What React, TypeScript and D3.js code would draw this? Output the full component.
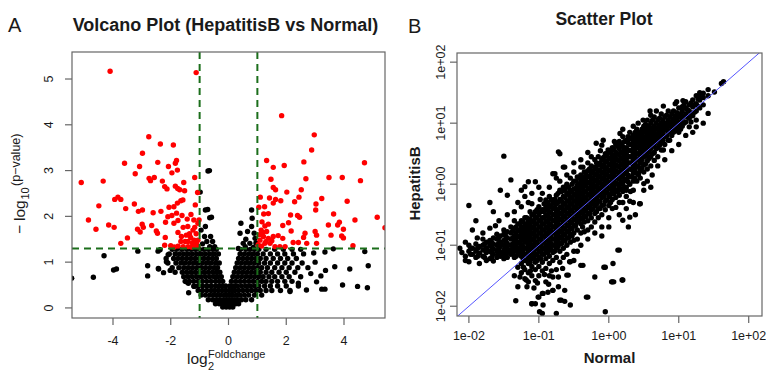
import React from 'react';
import * as d3 from 'd3';

// ---------------- Volcano plot data (log2 fold change, -log10 p) ----------------
const volcanoXTicks = [-4, -2, 0, 2, 4];
const volcanoYTicks = [0, 1, 2, 3, 4, 5];
const foldThreshold = 1;
const pThreshold = 1.3;

const volcanoScattered: [number, number][] = [
  [-4.10, 5.17], [-1.12, 5.14],
  [-2.76, 3.74], [-2.36, 3.58], [-1.91, 3.56], [-2.98, 3.38], [-1.80, 3.22], [-1.84, 3.16], [-3.60, 3.16], [-2.45, 3.18],
  [-3.08, 3.09], [-2.08, 3.09], [-3.23, 2.93], [-1.96, 2.95], [-1.77, 3.01], [-2.75, 2.83], [-2.70, 2.78], [-2.57, 2.85],
  [-2.29, 2.77], [-1.17, 2.85], [-5.10, 2.74], [-4.34, 2.77], [-1.55, 2.74], [-1.84, 2.66], [-2.13, 2.60], [-2.21, 2.65],
  [-1.69, 2.58], [-1.52, 2.56], [-1.76, 2.61], [-1.07, 2.52], [-3.83, 2.42], [-3.73, 2.37], [-3.94, 2.37], [-1.65, 2.34],
  [-1.58, 2.36], [-4.49, 2.23], [-3.26, 2.27], [-3.56, 2.17], [-3.12, 2.11], [-2.98, 2.14], [-2.06, 2.20], [-1.89, 2.21],
  [-1.77, 2.29], [-1.15, 2.25], [-2.61, 2.08], [-2.34, 2.11], [-2.10, 1.99], [-1.96, 2.02], [-1.80, 2.07], [-1.61, 2.02],
  [-1.43, 1.94], [-1.30, 2.04], [-4.85, 1.92], [-4.15, 1.81], [-3.96, 1.76], [-4.59, 1.72], [-3.15, 1.72], [-2.99, 1.83],
  [-2.95, 1.76], [-3.06, 1.66], [-2.66, 1.80], [-2.50, 1.68], [-2.46, 1.63], [-2.18, 1.87], [-1.89, 1.85], [-1.75, 1.91],
  [-1.57, 1.76], [-1.41, 1.78], [-1.17, 1.76], [-1.06, 1.85], [-1.02, 1.92], [-1.23, 1.70], [-3.50, 1.53], [-3.73, 1.41],
  [-2.19, 1.54], [-1.75, 1.65], [-1.63, 1.56], [-1.46, 1.59], [-1.31, 1.54], [-1.19, 1.48], [-1.11, 1.41], [-1.06, 1.48],
  [-1.25, 1.42], [-1.40, 1.45], [-2.00, 1.36], [-2.21, 1.37], [-1.75, 1.35], [-1.57, 1.34], [-1.40, 1.34], [-1.17, 1.35],
  [-1.06, 1.34], [-1.28, 1.33], [-1.88, 1.33], [-1.50, 1.45], [-1.35, 1.62], [-1.12, 1.62], [-1.20, 1.92], [-1.65, 1.45],
  [1.84, 4.20], [2.97, 3.78], [2.88, 3.45], [1.32, 3.22], [1.55, 3.07], [1.93, 3.11], [2.61, 3.19], [4.71, 3.17],
  [1.47, 2.81], [1.55, 2.63], [1.63, 2.58], [2.02, 2.53], [2.52, 2.58], [2.68, 2.82], [3.48, 2.85], [3.94, 2.85],
  [4.57, 2.78], [1.10, 2.42], [1.42, 2.40], [1.63, 2.37], [1.81, 2.34], [2.44, 2.42], [2.29, 2.32], [3.23, 2.39],
  [3.03, 2.27], [4.11, 2.33], [1.25, 2.21], [1.55, 2.29], [3.02, 2.14], [3.64, 2.05], [1.22, 2.05], [1.38, 2.06],
  [2.15, 2.03], [2.39, 2.02], [2.46, 1.98], [5.15, 1.98], [4.38, 1.92], [3.84, 1.87], [3.78, 1.81], [3.46, 1.81],
  [3.98, 1.72], [2.08, 1.86], [1.88, 1.80], [1.16, 1.88], [1.26, 1.79], [1.38, 1.83], [1.13, 1.70], [1.32, 1.67],
  [2.17, 1.68], [2.65, 1.63], [2.60, 1.54], [3.00, 1.67], [3.05, 1.59], [3.55, 1.59], [3.92, 1.57], [3.98, 1.53],
  [1.72, 1.58], [1.55, 1.56], [1.38, 1.52], [1.21, 1.56], [1.09, 1.48], [1.44, 1.41], [1.26, 1.41], [1.15, 1.35],
  [1.03, 1.38], [1.61, 1.34], [1.78, 1.34], [1.96, 1.34], [2.24, 1.43], [2.42, 1.43], [2.71, 1.41], [3.05, 1.41],
  [4.31, 1.36], [5.42, 1.75], [1.08, 1.60], [1.18, 1.65], [1.05, 2.20], [1.30, 1.45], [1.50, 1.47], [1.88, 1.52],
  // non-significant outliers
  [-5.43, 0.65], [-4.68, 0.67], [-4.31, 1.14], [-3.98, 0.83], [-3.88, 0.85], [-3.14, 1.24], [-2.80, 0.92], [-2.80, 0.70],
  [-2.42, 0.85], [-2.37, 1.27], [-2.44, 1.24], [-2.16, 1.08], [-2.02, 0.82], [-2.25, 0.77], [-2.43, 0.86], [-2.15, 1.01],
  [-2.09, 1.16], [-1.38, 0.33], [-1.39, 0.54], [-1.46, 0.57], [-1.19, 0.47],
  [3.34, 1.22], [3.63, 1.29], [4.72, 1.23], [4.84, 0.92], [4.20, 0.85], [3.68, 0.90], [3.36, 0.82], [3.95, 0.50],
  [4.47, 0.47], [4.81, 0.44], [3.23, 0.41], [3.34, 0.41], [3.05, 0.57], [2.70, 0.39], [2.42, 0.54], [2.13, 0.36],
  [3.00, 1.00], [2.95, 1.20], [3.20, 0.70], [2.85, 0.75],
  [-0.71, 2.99], [-0.66, 3.00], [-0.98, 2.53], [-0.80, 2.14], [-0.72, 2.15], [-0.65, 1.97], [-0.59, 1.98], [-0.80, 1.78],
  [-0.83, 1.56], [-0.62, 1.56], [-0.65, 1.34], [-0.48, 1.34], [-0.90, 1.40], [-0.75, 1.45], [-0.55, 1.45], [-0.95, 1.70],
  [0.80, 2.14], [0.82, 1.96], [0.43, 1.85], [0.80, 1.78], [0.40, 1.63], [0.66, 1.67], [0.89, 1.63], [0.92, 1.52],
  [0.51, 1.41], [0.74, 1.41], [0.34, 1.30], [0.58, 1.34], [0.86, 1.32], [0.95, 1.42], [0.60, 1.50],
];

// dense part of the volcano: [-log10 p, fold changes on that level]
const volcanoRows: [number, number[]][] = [
  [1.28, [-1.95, -1.8, -1.62, -1.45, -1.3, -1.15, -1.0, -0.85, -0.7, -0.55, -0.42, 0.42, 0.6, 0.75, 0.9, 1.05, 1.3, 1.6, 1.9, 2.2, 2.5]],
  [1.18, [-2.05, -1.85, -1.7, -1.55, -1.4, -1.25, -1.1, -0.95, -0.8, -0.65, -0.5, -0.35, 0.4, 0.55, 0.7, 0.85, 1.0, 1.2, 1.45, 1.7, 1.95, 2.25, 2.6]],
  [1.08, [-1.9, -1.75, -1.6, -1.45, -1.3, -1.15, -1.0, -0.85, -0.7, -0.55, -0.42, 0.35, 0.5, 0.65, 0.8, 0.95, 1.1, 1.3, 1.55, 1.8, 2.05, 2.35]],
  [0.98, [-2.1, -1.82, -1.65, -1.5, -1.35, -1.2, -1.05, -0.9, -0.75, -0.6, -0.45, -0.32, 0.3, 0.45, 0.6, 0.75, 0.9, 1.05, 1.25, 1.45, 1.7, 1.95, 2.2, 2.55]],
  [0.88, [-1.95, -1.72, -1.55, -1.4, -1.25, -1.1, -0.95, -0.8, -0.65, -0.5, -0.38, 0.25, 0.4, 0.55, 0.7, 0.85, 1.0, 1.15, 1.35, 1.6, 1.85, 2.1, 2.4, 2.75]],
  [0.78, [-1.85, -1.6, -1.45, -1.3, -1.15, -1.0, -0.85, -0.7, -0.55, -0.42, -0.3, 0.2, 0.35, 0.5, 0.65, 0.8, 0.95, 1.1, 1.3, 1.5, 1.75, 2.0, 2.3]],
  [0.68, [-1.55, -1.4, -1.25, -1.1, -0.95, -0.8, -0.65, -0.5, -0.38, -0.25, 0.15, 0.3, 0.45, 0.6, 0.75, 0.9, 1.05, 1.2, 1.4, 1.6, 1.85, 2.1, 2.5]],
  [0.58, [-1.5, -1.35, -1.2, -1.05, -0.9, -0.75, -0.6, -0.45, -0.32, -0.2, 0.1, 0.25, 0.4, 0.55, 0.7, 0.85, 1.0, 1.15, 1.3, 1.5, 1.7, 1.95, 2.2]],
  [0.48, [-1.2, -1.05, -0.9, -0.75, -0.6, -0.45, -0.32, -0.2, -0.1, 0.05, 0.18, 0.3, 0.45, 0.6, 0.75, 0.9, 1.05, 1.25, 1.45, 1.7, 2.0, 2.42]],
  [0.38, [-1.05, -0.9, -0.75, -0.6, -0.48, -0.35, -0.22, -0.1, 0.02, 0.12, 0.22, 0.35, 0.5, 0.65, 0.8, 0.95, 1.1, 1.3, 1.5, 1.8, 2.13]],
  [0.28, [-0.95, -0.8, -0.65, -0.52, -0.4, -0.28, -0.15, -0.05, 0.05, 0.15, 0.28, 0.4, 0.55, 0.7, 0.9, 1.15]],
  [0.18, [-0.7, -0.55, -0.42, -0.3, -0.18, -0.08, 0.02, 0.12, 0.22, 0.32, 0.45, 0.6, 0.8]],
  [0.09, [-0.45, -0.32, -0.2, -0.1, 0.0, 0.1, 0.18, 0.25, 0.35]],
  [0.02, [-0.2, -0.08, 0.04, 0.15]],
];

// ---------------- Scatter plot data (log10 Normal, log10 HepatitisB) ----------------
const scatterTickExponents = [-2, -1, 0, 1, 2];
const scatterTickLabels = ['1e-02', '1e-01', '1e+00', '1e+01', '1e+02'];

// dense band: [log10 Normal, log10 HepatitisB values in that column]
const scatterColumns: [number, number[]][] = [
  [-2.13, [-1.05]], [-2.1, [-1.12]], [-2.05, [-0.95, -1.18, -1.25]], [-2.0, [-0.35, -1.0, -1.1, -1.27]],
  [-1.95, [-0.75, -1.05, -1.15]], [-1.9, [-0.6, -0.98, -1.1, -1.2]], [-1.85, [-1.02, -1.13, -1.3]],
  [-1.8, [-0.9, -1.0, -1.08, -1.18]], [-1.75, [-0.95, -1.05, -1.12, -1.25]],
  [-1.7, [-0.3, -0.72, -0.92, -1.0, -1.1, -1.22]], [-1.65, [-0.45, -0.88, -0.98, -1.06, -1.15, -1.26]],
  [-1.6, [-0.82, -0.9, -1.0, -1.1, -1.2]], [-1.55, [-0.1, -0.85, -0.95, -1.02, -1.12, -1.18]],
  [-1.5, [0.46, -0.75, -0.82, -0.92, -1.0, -1.08, -1.15, -1.22]],
  [-1.45, [-0.18, -0.5, -0.78, -0.88, -0.97, -1.05, -1.12, -1.2]],
  [-1.4, [0.07, -0.7, -0.8, -0.9, -1.0, -1.08, -1.15]],
  [-1.35, [-0.6, -0.72, -0.85, -0.95, -1.02, -1.1, -1.2, -1.5]],
  [-1.3, [-0.65, -0.76, -0.86, -0.96, -1.05, -1.12, -1.36, -1.68]],
  [-1.25, [-0.1, -0.37, -0.6, -0.7, -0.8, -0.9, -1.0, -1.08, -1.18, -1.3, -1.45]],
  [-1.2, [-0.04, -0.55, -0.68, -0.78, -0.88, -0.95, -1.05, -1.15, -1.25, -1.4, -1.55]],
  [-1.15, [0.04, -0.3, -0.6, -0.7, -0.8, -0.9, -1.0, -1.1, -1.2, -1.3, -1.45, -1.6]],
  [-1.1, [-0.32, -0.5, -0.62, -0.72, -0.82, -0.92, -1.02, -1.12, -1.22, -1.35, -1.5, -1.96]],
  [-1.05, [0.04, -0.45, -0.55, -0.65, -0.75, -0.85, -0.95, -1.05, -1.15, -1.28, -1.4, -1.58]],
  [-1.0, [-0.05, -0.37, -0.5, -0.6, -0.7, -0.8, -0.9, -1.0, -1.1, -1.2, -1.35, -1.5, -1.85]],
  [-0.95, [-0.15, -0.42, -0.55, -0.65, -0.75, -0.85, -0.95, -1.05, -1.15, -1.28, -1.42, -1.79, -2.12]],
  [-0.9, [-0.26, -0.38, -0.5, -0.6, -0.7, -0.8, -0.9, -1.0, -1.1, -1.22, -1.38, -1.6]],
  [-0.85, [-0.2, -0.35, -0.45, -0.55, -0.65, -0.75, -0.85, -0.95, -1.05, -1.18, -1.3, -1.5]],
  [-0.8, [0.17, -0.3, -0.4, -0.5, -0.6, -0.7, -0.8, -0.9, -1.0, -1.12, -1.25, -1.52, -1.74]],
  [-0.75, [0.1, -0.18, -0.32, -0.45, -0.55, -0.65, -0.75, -0.85, -0.95, -1.05, -1.2, -1.4, -2.12]],
  [-0.7, [0.5, -0.1, -0.25, -0.38, -0.48, -0.58, -0.68, -0.78, -0.88, -0.98, -1.1, -1.28, -1.9]],
  [-0.65, [0.28, -0.05, -0.2, -0.32, -0.42, -0.52, -0.62, -0.72, -0.82, -0.92, -1.05, -1.2]],
  [-0.6, [0.0, -0.15, -0.28, -0.38, -0.48, -0.58, -0.68, -0.78, -0.88, -1.0, -1.15, -1.49]],
  [-0.55, [0.1, -0.1, -0.22, -0.32, -0.42, -0.52, -0.62, -0.72, -0.82, -0.95, -1.27, -1.98]],
  [-0.5, [0.2, 0.05, -0.08, -0.18, -0.28, -0.38, -0.48, -0.58, -0.68, -0.8, -0.92, -1.1]],
  [-0.45, [0.12, -0.02, -0.12, -0.22, -0.32, -0.42, -0.52, -0.62, -0.75, -0.9]],
  [-0.4, [0.28, 0.15, 0.05, -0.05, -0.15, -0.25, -0.35, -0.45, -0.55, -0.65, -0.8, -1.33]],
  [-0.35, [0.2, 0.08, -0.02, -0.12, -0.22, -0.32, -0.42, -0.52, -0.62, -0.78]],
  [-0.3, [0.35, 0.22, 0.12, 0.02, -0.08, -0.18, -0.28, -0.38, -0.48, -0.6, -0.75, -1.85]],
  [-0.25, [0.3, 0.18, 0.08, -0.02, -0.12, -0.22, -0.32, -0.42, -0.55, -0.7]],
  [-0.2, [0.4, 0.28, 0.15, 0.05, -0.05, -0.15, -0.25, -0.35, -0.48, -0.62, -1.52]],
  [-0.15, [0.45, 0.32, 0.22, 0.12, 0.02, -0.08, -0.18, -0.28, -0.4, -0.55]],
  [-0.1, [0.64, 0.4, 0.28, 0.18, 0.08, -0.02, -0.12, -0.22, -0.35, -0.5, -0.7]],
  [-0.05, [0.5, 0.38, 0.25, 0.15, 0.05, -0.05, -0.15, -0.28, -0.42, -1.36, -2.09]],
  [0.0, [0.55, 0.42, 0.32, 0.22, 0.12, 0.02, -0.08, -0.2, -0.35, -0.55]],
  [0.05, [0.6, 0.48, 0.38, 0.28, 0.18, 0.08, -0.02, -0.12, -0.25, -0.4, -1.6]],
  [0.1, [0.65, 0.52, 0.42, 0.32, 0.22, 0.12, 0.02, -0.1, -0.22, -0.38]],
  [0.15, [0.7, 0.58, 0.48, 0.38, 0.28, 0.18, 0.08, -0.05, -0.18, -0.5, -1.08]],
  [0.2, [0.78, 0.62, 0.52, 0.42, 0.32, 0.22, 0.12, 0.0, -0.12, -0.3, -0.59, -1.57]],
  [0.25, [0.72, 0.6, 0.5, 0.4, 0.3, 0.2, 0.08, -0.05, -0.2]],
  [0.3, [0.85, 0.75, 0.65, 0.55, 0.45, 0.35, 0.25, 0.12, 0.0, -0.28, -0.54]],
  [0.35, [0.8, 0.7, 0.6, 0.5, 0.4, 0.3, 0.18, 0.05, -0.1]],
  [0.4, [0.9, 0.8, 0.7, 0.6, 0.5, 0.4, 0.3, 0.18, 0.05]],
  [0.45, [0.85, 0.75, 0.65, 0.55, 0.45, 0.35, 0.22, 0.1, -0.32]],
  [0.5, [0.95, 0.85, 0.75, 0.65, 0.55, 0.45, 0.32, 0.2, 0.01]],
  [0.55, [1.05, 0.9, 0.8, 0.7, 0.6, 0.5, 0.38, 0.25]],
  [0.6, [1.13, 1.0, 0.88, 0.78, 0.68, 0.58, 0.45, 0.3]],
  [0.65, [1.1, 0.95, 0.85, 0.75, 0.65, 0.52, 0.39]],
  [0.7, [1.05, 0.92, 0.82, 0.72, 0.6, 0.45]],
  [0.75, [1.15, 1.0, 0.9, 0.8, 0.68, 0.56]],
  [0.8, [1.1, 0.98, 0.89, 0.78, 0.65]],
  [0.85, [1.2, 1.05, 0.95, 0.85, 0.72]],
  [0.9, [1.15, 1.02, 0.92, 0.8]],
  [0.95, [1.32, 1.12, 1.0, 0.88]],
  [1.0, [1.25, 1.1, 0.98, 0.85]],
  [1.05, [1.27, 1.2, 1.08, 0.95]],
  [1.1, [1.35, 1.25, 1.15, 1.02]],
  [1.15, [1.3, 1.2, 1.08, 0.94]],
  [1.2, [1.38, 1.27, 1.12]],
  [1.25, [1.45, 1.32, 1.2, 1.05, 0.94]],
  [1.3, [1.5, 1.43, 1.38, 1.25]],
  [1.35, [1.49, 1.42, 1.3]],
  [1.42, [1.16, 1.45, 1.55]],
  [1.51, [1.51]], [1.61, [1.65]], [1.64, [1.68]],
];

// the core of the band, between the columns above
const scatterCoreColumns: [number, number[]][] = [
  [-1.975, [-1.05, -1.15]], [-1.875, [-1.05, -1.18]], [-1.775, [-0.98, -1.08, -1.2]],
  [-1.675, [-0.95, -1.03, -1.12, -1.2]], [-1.575, [-0.88, -0.97, -1.06, -1.15]],
  [-1.475, [-0.85, -0.93, -1.02, -1.1, -1.18]], [-1.375, [-0.77, -0.88, -0.98, -1.06, -1.14]],
  [-1.325, [-0.7, -0.8, -0.9, -1.0, -1.08, -1.18]],
  [-1.275, [-0.65, -0.75, -0.85, -0.95, -1.05, -1.15]],
  [-1.225, [-0.62, -0.73, -0.83, -0.92, -1.02, -1.12, -1.22]],
  [-1.175, [-0.55, -0.65, -0.75, -0.85, -0.95, -1.05, -1.15, -1.25]],
  [-1.125, [-0.45, -0.57, -0.67, -0.77, -0.87, -0.97, -1.07, -1.17, -1.28]],
  [-1.075, [-0.5, -0.6, -0.7, -0.8, -0.9, -1.0, -1.1, -1.2]],
  [-1.025, [-0.42, -0.55, -0.65, -0.75, -0.85, -0.95, -1.05, -1.15, -1.25]],
  [-0.975, [-0.45, -0.6, -0.7, -0.8, -0.9, -1.0, -1.1, -1.22]],
  [-0.925, [-0.32, -0.45, -0.55, -0.65, -0.75, -0.85, -0.95, -1.05, -1.15]],
  [-0.875, [-0.3, -0.42, -0.52, -0.62, -0.72, -0.82, -0.92, -1.02, -1.12]],
  [-0.825, [-0.25, -0.37, -0.47, -0.57, -0.67, -0.77, -0.87, -0.97, -1.07]],
  [-0.775, [-0.25, -0.38, -0.5, -0.6, -0.7, -0.8, -0.9, -1.0, -1.1]],
  [-0.725, [-0.15, -0.3, -0.42, -0.52, -0.62, -0.72, -0.82, -0.92, -1.02]],
  [-0.675, [-0.12, -0.28, -0.37, -0.47, -0.57, -0.67, -0.77, -0.87, -0.97]],
  [-0.625, [-0.1, -0.22, -0.33, -0.43, -0.53, -0.63, -0.73, -0.83, -0.93]],
  [-0.575, [-0.05, -0.17, -0.27, -0.37, -0.47, -0.57, -0.67, -0.77, -0.88]],
  [-0.525, [0.0, -0.13, -0.23, -0.33, -0.43, -0.53, -0.63, -0.73, -0.85]],
  [-0.475, [0.05, -0.07, -0.17, -0.27, -0.37, -0.47, -0.57, -0.68]],
  [-0.425, [0.1, 0.0, -0.1, -0.2, -0.3, -0.4, -0.5, -0.6]],
  [-0.375, [0.12, 0.02, -0.07, -0.17, -0.27, -0.37, -0.47, -0.57, -0.7]],
  [-0.325, [0.16, 0.06, -0.03, -0.13, -0.23, -0.33, -0.43, -0.53]],
  [-0.275, [0.25, 0.13, 0.03, -0.07, -0.17, -0.27, -0.37, -0.48]],
  [-0.225, [0.22, 0.1, 0.0, -0.1, -0.2, -0.3, -0.4]],
  [-0.175, [0.35, 0.25, 0.17, 0.07, -0.03, -0.13, -0.23, -0.33, -0.45]],
  [-0.125, [0.35, 0.23, 0.13, 0.03, -0.07, -0.17, -0.28, -0.4]],
  [-0.075, [0.44, 0.32, 0.2, 0.1, 0.0, -0.1, -0.2, -0.34]],
  [-0.025, [0.47, 0.37, 0.27, 0.17, 0.07, -0.03, -0.13, -0.26]],
  [0.025, [0.52, 0.43, 0.33, 0.23, 0.13, 0.03, -0.07, -0.17, -0.3]],
  [0.075, [0.57, 0.45, 0.35, 0.25, 0.15, 0.05, -0.05, -0.16]],
  [0.125, [0.62, 0.5, 0.4, 0.3, 0.2, 0.1, 0.0, -0.12]],
  [0.175, [0.65, 0.53, 0.43, 0.33, 0.23, 0.13, 0.03, -0.08]],
  [0.225, [0.7, 0.57, 0.47, 0.37, 0.27, 0.17, 0.06, -0.06]],
  [0.275, [0.78, 0.68, 0.56, 0.45, 0.35, 0.25, 0.15, 0.04]],
  [0.325, [0.76, 0.65, 0.55, 0.45, 0.35, 0.24, 0.12]],
  [0.375, [0.85, 0.75, 0.65, 0.55, 0.45, 0.35, 0.24, 0.1]],
  [0.425, [0.83, 0.72, 0.62, 0.5, 0.4, 0.28, 0.16]],
  [0.475, [0.9, 0.8, 0.7, 0.6, 0.5, 0.4, 0.27]],
  [0.525, [0.98, 0.88, 0.78, 0.67, 0.57, 0.46, 0.33]],
  [0.575, [0.95, 0.85, 0.75, 0.64, 0.54, 0.42]],
  [0.625, [1.05, 0.92, 0.82, 0.72, 0.62, 0.5]],
  [0.675, [1.0, 0.9, 0.8, 0.7, 0.58]],
  [0.725, [1.08, 0.97, 0.86, 0.76, 0.64]],
  [0.775, [1.05, 0.94, 0.84, 0.72]],
  [0.825, [1.13, 1.0, 0.9, 0.79]],
  [0.875, [1.1, 0.98, 0.87]],
  [0.925, [1.2, 1.07, 0.96, 0.85]],
  [0.975, [1.17, 1.05, 0.93]],
  [1.025, [1.15, 1.02, 0.9]],
  [1.075, [1.3, 1.12, 1.0]],
  [1.125, [1.22, 1.1]],
  [1.175, [1.33, 1.16, 1.02]],
  [1.225, [1.3, 1.18]],
  [1.275, [1.4, 1.28]],
];

const scatterOutliers: [number, number][] = [
  [-1.33, -1.91], [-1.10, -1.96], [-1.05, -1.96], [-0.94, -1.98], [-1.01, -1.85], [-0.94, -1.79], [-0.87, -1.77],
  [-0.80, -1.74], [-0.68, -1.90], [-0.63, -1.92], [-0.58, -1.49], [-0.56, -1.27], [-0.37, -1.33], [-0.32, -1.85],
  [-0.07, -1.36], [0.04, -1.60], [0.06, -1.30], [0.07, -1.60], [0.19, -1.57], [0.13, -1.08], [-0.99, -2.09],
  [-0.63, -1.74], [-0.72, -1.68], [-1.18, -1.57], [-1.27, -1.52], [-1.22, -1.36], [-1.12, -1.42], [-1.02, -1.62],
  [-0.92, -1.48], [-0.82, -1.42], [-0.72, -1.52], [-0.66, -1.38], [-1.07, -1.7], [-0.86, -1.64], [-1.17, -1.68],
  [-0.72, 0.53], [-0.18, 0.67], [-0.08, 0.72], [0.16, 0.83], [0.32, 0.75], [0.49, 1.05], [0.40, 0.86], [-0.63, 0.28],
  [-0.37, 0.28], [-0.77, 0.17], [0.78, 0.89], [0.87, 0.72], [0.78, 0.56], [0.44, -0.32], [0.25, -0.10], [0.31, -0.12],
  // ragged upper edge
  [-1.2, -0.2], [-1.3, -0.3], [-1.35, -0.45], [-1.1, -0.15], [-0.98, -0.25], [-0.85, -0.05], [-0.7, 0.05],
  [-0.6, 0.15], [-0.5, 0.35], [-0.4, 0.4], [-0.25, 0.45], [-0.3, 0.52], [-0.01, 0.56], [0.08, 0.7], [0.2, 0.9],
  [0.35, 0.95], [0.42, 1.0], [0.59, 1.2], [0.68, 1.2], [0.78, 1.28], [0.97, 1.35], [1.06, 1.37], [-1.57, -0.6],
  [-1.62, -0.68], [-1.8, -0.8], [-1.88, -0.88], [-0.12, 0.55],
  // ragged lower edge
  [0.5, -0.1], [0.55, 0.05], [0.62, 0.15], [0.7, 0.3], [0.8, 0.4], [0.9, 0.55], [1.0, 0.65], [1.1, 0.8],
  [1.2, 0.85], [1.35, 1.0], [0.35, -0.3], [0.25, -0.4], [0.15, -0.3], [0.0, -0.7], [-0.1, -0.85], [-0.2, -0.8],
  [-0.3, -0.9], [-0.4, -1.0], [-0.5, -1.25], [-0.45, -1.1], [0.28, -0.7], [0.38, -0.5], [0.6, -0.05],
];

// ------------------------------------------------------------------------------------
const FONT = '"Liberation Sans", Arial, Helvetica, sans-serif';
const TXT = '#1a1a1a';
const AXIS = '#666';

export default function App() {
  // volcano scales
  const vx = d3.scaleLinear().domain([-5.42, 5.42]).range([72, 385]);
  const vy = d3.scaleLinear().domain([-0.22, 5.59]).range([318, 52]);
  // scatter scales (log)
  const sx = d3.scaleLog().domain([Math.pow(10, -2.17), Math.pow(10, 2.19)]).range([457, 762]);
  const sy = d3.scaleLog().domain([Math.pow(10, -2.16), Math.pow(10, 2.15)]).range([316, 53]);

  const volcanoPts: [number, number][] = [
    ...volcanoScattered,
    ...volcanoRows.flatMap(([y, xs]) => xs.map((x) => [x, y] as [number, number])),
  ];
  const isSig = (p: [number, number]) => Math.abs(p[0]) > foldThreshold && p[1] > pThreshold;
  const blackPts = volcanoPts.filter((p) => !isSig(p));
  const redPts = volcanoPts.filter(isSig);

  const toPairs = (cols: [number, number[]][]) =>
    cols.flatMap(([x, ys]) => ys.map((y) => [x, y] as [number, number]));
  const scatterPts: [number, number][] = [
    ...toPairs(scatterColumns),
    ...toPairs(scatterCoreColumns),
    ...scatterOutliers,
  ];

  const [vx0, vx1] = vx.range();
  const [vy0, vy1] = vy.range();
  const [sx0, sx1] = sx.range();
  const [sy0, sy1] = sy.range();

  const diag = d3.line<number>().x((v) => sx(v)).y((v) => sy(v))([1e-3, 1e3]) || '';
  const R = 2.7;

  return (
    <svg width={766} height={370} style={{ position: 'absolute', left: 0, top: 0, background: '#fff' }} fontFamily={FONT}>
      <defs>
        <clipPath id="vclip"><rect x={vx0} y={vy1} width={vx1 - vx0} height={vy0 - vy1} /></clipPath>
        <clipPath id="sclip"><rect x={sx0} y={sy1} width={sx1 - sx0} height={sy0 - sy1} /></clipPath>
      </defs>
      <rect width={766} height={370} fill="#fff" />

      {/* ---------------- Panel A ---------------- */}
      <text x={8} y={32} fontSize={20} fill={TXT}>A</text>
      <text x={225.5} y={31} fontSize={18} fontWeight="bold" textAnchor="middle" fill={TXT}>Volcano Plot (HepatitisB vs Normal)</text>

      <g clipPath="url(#vclip)">
        {blackPts.map((p, i) => <circle key={'b' + i} cx={vx(p[0])} cy={vy(p[1])} r={R} fill="#000" />)}
        {redPts.map((p, i) => <circle key={'r' + i} cx={vx(p[0])} cy={vy(p[1])} r={R} fill="#ff0000" />)}
        <line x1={vx(-foldThreshold)} x2={vx(-foldThreshold)} y1={vy1} y2={vy0} stroke="#1b6e1b" strokeWidth={2} strokeDasharray="7,5" />
        <line x1={vx(foldThreshold)} x2={vx(foldThreshold)} y1={vy1} y2={vy0} stroke="#1b6e1b" strokeWidth={2} strokeDasharray="7,5" />
        <line x1={vx0} x2={vx1} y1={vy(pThreshold)} y2={vy(pThreshold)} stroke="#1b6e1b" strokeWidth={2} strokeDasharray="7,5" />
      </g>
      <rect x={vx0} y={vy1} width={vx1 - vx0} height={vy0 - vy1} fill="none" stroke={AXIS} strokeWidth={1.2} />

      {volcanoXTicks.map((t) => (
        <g key={'vxt' + t}>
          <line x1={vx(t)} x2={vx(t)} y1={vy0} y2={vy0 + 7} stroke={AXIS} strokeWidth={1.2} />
          <text x={vx(t)} y={344.5} fontSize={12.5} textAnchor="middle" fill={TXT}>{String(t)}</text>
        </g>
      ))}
      {volcanoYTicks.map((t) => (
        <g key={'vyt' + t}>
          <line x1={vx0 - 7} x2={vx0} y1={vy(t)} y2={vy(t)} stroke={AXIS} strokeWidth={1.2} />
          <text transform={`translate(53,${vy(t)}) rotate(-90)`} fontSize={12.5} textAnchor="middle" fill={TXT}>{String(t)}</text>
        </g>
      ))}

      {/* x axis title: log2 Foldchange */}
      <text x={187} y={364} fontSize={15.5} fill={TXT}>log</text>
      <text x={208} y={369.5} fontSize={11} fill={TXT}>2</text>
      <text x={208} y={357.5} fontSize={11} fill={TXT}>Foldchange</text>

      {/* y axis title: -log10 (p-value) */}
      <g transform="translate(25,234) rotate(-90)" fill={TXT}>
        <text x={0} y={0} fontSize={15.5}>−</text>
        <text x={13} y={0} fontSize={15.5}>log</text>
        <text x={34.5} y={4} fontSize={11}>10</text>
        <text x={48} y={-5} fontSize={12.5}>(p−value)</text>
      </g>

      {/* ---------------- Panel B ---------------- */}
      <text x={408} y={33} fontSize={20} fill={TXT}>B</text>
      <text x={604} y={25} fontSize={17.5} fontWeight="bold" textAnchor="middle" fill={TXT}>Scatter Plot</text>

      <g clipPath="url(#sclip)">
        {scatterPts.map((p, i) => (
          <circle key={'s' + i} cx={sx(Math.pow(10, p[0]))} cy={sy(Math.pow(10, p[1]))} r={R} fill="#000" />
        ))}
        <path d={diag} stroke="#5555ff" strokeWidth={1} fill="none" />
      </g>
      <rect x={sx0} y={sy1} width={sx1 - sx0} height={sy0 - sy1} fill="none" stroke={AXIS} strokeWidth={1.2} />

      {scatterTickExponents.map((e, i) => (
        <g key={'sxt' + e}>
          <line x1={sx(Math.pow(10, e))} x2={sx(Math.pow(10, e))} y1={sy0} y2={sy0 + 7} stroke={AXIS} strokeWidth={1.2} />
          <text x={sx(Math.pow(10, e))} y={339.5} fontSize={12.5} textAnchor="middle" fill={TXT}>{scatterTickLabels[i]}</text>
        </g>
      ))}
      {scatterTickExponents.map((e, i) => (
        <g key={'syt' + e}>
          <line x1={sx0 - 7} x2={sx0} y1={sy(Math.pow(10, e))} y2={sy(Math.pow(10, e))} stroke={AXIS} strokeWidth={1.2} />
          <text transform={`translate(445,${sy(Math.pow(10, e))}) rotate(-90)`} fontSize={12.5} textAnchor="middle" fill={TXT}>{scatterTickLabels[i]}</text>
        </g>
      ))}

      <text transform="translate(420,183.5) rotate(-90)" fontSize={15} fontWeight="bold" textAnchor="middle" fill={TXT}>HepatitisB</text>
      <text x={609.5} y={363} fontSize={15} fontWeight="bold" textAnchor="middle" fill={TXT}>Normal</text>
    </svg>
  );
}
